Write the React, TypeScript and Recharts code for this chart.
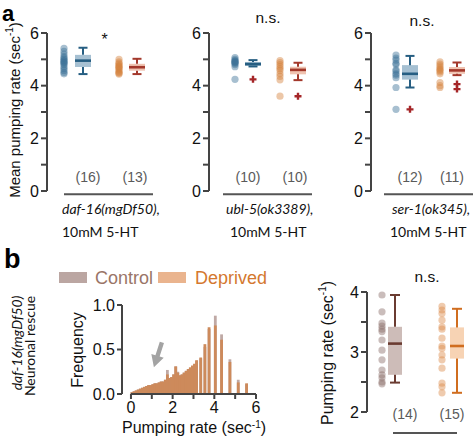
import React from 'react'
import {
  ScatterChart,
  Scatter,
  BarChart,
  Bar,
  XAxis,
  YAxis,
  ReferenceArea,
  ReferenceLine,
  ReferenceDot,
} from 'recharts'

// panel a: mean pumping rate per worm (sec-1) on 10mM 5-HT
const dafControl = [5.42, 5.3, 5.2, 5.1, 5.05, 5.0, 4.95, 4.92, 4.88, 4.85, 4.8, 4.72, 4.65, 4.58, 4.5, 4.45]
const dafDeprived = [5.0, 4.9, 4.85, 4.8, 4.75, 4.72, 4.7, 4.65, 4.6, 4.55, 4.5, 4.47, 4.44]
const ublControl = [5.07, 5.0, 4.95, 4.92, 4.9, 4.88, 4.85, 4.8, 4.72, 4.24]
const ublDeprived = [4.95, 4.88, 4.8, 4.72, 4.65, 4.58, 4.45, 4.35, 4.22, 3.6]
const serControl = [5.16, 5.05, 4.97, 4.85, 4.8, 4.6, 4.55, 4.45, 4.4, 4.3, 3.93, 3.1]
const serDeprived = [4.9, 4.82, 4.75, 4.68, 4.62, 4.58, 4.52, 4.45, 4.12, 4.0, 3.93]

// box stats: [whisker low, q1, median, q3, whisker high]
const dafControlBox = [4.44, 4.71, 4.95, 5.17, 5.44]
const dafDeprivedBox = [4.44, 4.57, 4.7, 4.83, 5.02]
const ublControlBox = [4.73, 4.75, 4.82, 4.9, 4.97]
const ublDeprivedBox = [4.21, 4.43, 4.6, 4.72, 4.87]
const serControlBox = [3.93, 4.23, 4.45, 4.78, 5.13]
const serDeprivedBox = [4.4, 4.45, 4.58, 4.71, 4.88]

const ublControlOut = [4.24]
const ublDeprivedOut = [3.6]
const serControlOut = [3.1]
const serDeprivedOut = [4.06, 3.87]

// panel b histogram, bins of 0.1 sec-1
const binCenters = [
  0.05, 0.15, 0.25, 0.35, 0.45, 0.55, 0.65, 0.75, 0.85, 0.95,
  1.05, 1.15, 1.25, 1.35, 1.45, 1.55, 1.65, 1.75, 1.85, 1.95,
  2.05, 2.15, 2.25, 2.35, 2.45, 2.55, 2.65, 2.75, 2.85, 2.95,
  3.05, 3.15, 3.25, 3.35, 3.45, 3.55, 3.65, 3.75, 3.85, 3.95,
  4.05, 4.15, 4.25, 4.35, 4.45, 4.55, 4.65, 4.75, 4.85, 4.95,
  5.05, 5.15, 5.25, 5.35, 5.45, 5.55,
]
const controlFreq = [
  0.02, 0.03, 0.04, 0.05, 0.06, 0.07, 0.08, 0.09, 0.1, 0.1,
  0.11, 0.12, 0.12, 0.13, 0.14, 0.14, 0.16, 0.27, 0.18, 0.19,
  0.22, 0.31, 0.25, 0.21, 0.22, 0.24, 0.26, 0.28, 0.29, 0.31,
  0.33, 0.37, 0, 0.4, 0, 0.53, 0, 0.73, 0, 0,
  0.88, 0, 0, 0.67, 0, 0, 0, 0.39, 0, 0,
  0, 0.16, 0, 0, 0, 0.11,
]
const deprivedFreq = [
  0.02, 0.03, 0.04, 0.05, 0.06, 0.07, 0.08, 0.09, 0.1, 0.1,
  0.11, 0.12, 0.12, 0.13, 0.14, 0.14, 0.16, 0.22, 0.18, 0.19,
  0.22, 0.31, 0.24, 0.21, 0.22, 0.24, 0.26, 0.28, 0.3, 0.32,
  0.34, 0.38, 0, 0.41, 0, 0.56, 0, 0.75, 0, 0,
  0.77, 0, 0, 0.61, 0, 0, 0, 0.36, 0, 0,
  0, 0.13, 0, 0, 0, 0.12,
]

// panel b right: pumping rate per worm
const ctrlRates = [3.95, 3.67, 3.48, 3.43, 3.38, 3.34, 3.2, 3.03, 2.87, 2.7, 2.62, 2.57, 2.5, 2.47]
const deprRates = [3.76, 3.7, 3.64, 3.53, 3.42, 3.38, 3.23, 3.1, 3.06, 2.95, 2.87, 2.73, 2.48, 2.42, 2.32]
const ctrlBox = [2.49, 2.62, 3.14, 3.42, 3.95]
const deprBox = [2.32, 2.89, 3.1, 3.41, 3.72]

const AXIS = '#444'
const SANS = '"Liberation Sans", Arial, sans-serif'
const GILL = 'Lato, "Open Sans", sans-serif'

const dotShape = (color: string) => (p: any) => (
  <circle cx={p.cx} cy={p.cy} r={3.6} fill={color} fillOpacity={0.45} />
)
const crossShape = (color: string) => (p: any) => (
  <path d={`M${p.cx - 3.5},${p.cy}h7M${p.cx},${p.cy - 3.5}v7`} stroke={color} strokeWidth={2.4} />
)
// histogram bins are ~2px wide; widen slightly so neighbours touch
const binShape = (color: string) => (p: any) =>
  p.height > 0 ? <rect x={p.x - 0.4} y={p.y} width={p.width + 0.8} height={p.height} fill={color} /> : <g />

function boxParts(id: string, x: number, b: number[], hw: number, cap: number, fill: string, line: string) {
  const [lo, q1, med, q3, hi] = b
  const ls = { stroke: line, strokeWidth: 2 }
  return [
    <ReferenceLine key={id + 'w1'} segment={[{ x, y: lo }, { x, y: q1 }]} {...ls} />,
    <ReferenceLine key={id + 'w2'} segment={[{ x, y: q3 }, { x, y: hi }]} {...ls} />,
    <ReferenceLine key={id + 'c1'} segment={[{ x: x - cap, y: lo }, { x: x + cap, y: lo }]} {...ls} />,
    <ReferenceLine key={id + 'c2'} segment={[{ x: x - cap, y: hi }, { x: x + cap, y: hi }]} {...ls} />,
    <ReferenceArea key={id + 'b'} x1={x - hw} x2={x + hw} y1={q1} y2={q3} fill={fill} fillOpacity={1} stroke="none" />,
    <ReferenceLine key={id + 'm'} segment={[{ x: x - hw, y: med }, { x: x + hw, y: med }]} stroke={line} strokeWidth={2.6} />,
  ]
}

type Group = {
  id: string
  dotX: number
  boxX: number
  countX: number
  vals: number[]
  box: number[]
  out: number[]
  dot: string
  fill: string
  line: string
}

function BoxPanel(props: {
  left: number
  top: number
  width: number
  height: number
  margin: any
  axisW: number
  xDomain: number[]
  yDomain: number[]
  yTicks: number[]
  labelTick: (v: number) => boolean
  groups: Group[]
  hw: number
  cap: number
  countY: number
  baseY: number
  baseX: number[]
}) {
  const p = props
  return (
    <div style={{ position: 'absolute', left: p.left, top: p.top }}>
      <ScatterChart width={p.width} height={p.height} margin={p.margin}>
        <XAxis type="number" dataKey="x" domain={p.xDomain} hide />
        <YAxis
          type="number"
          dataKey="y"
          domain={p.yDomain}
          ticks={p.yTicks}
          interval={0}
          width={p.axisW}
          tickFormatter={(v: number) => (p.labelTick(v) ? String(v) : '')}
          axisLine={{ stroke: AXIS, strokeWidth: 2 }}
          tickLine={{ stroke: AXIS, strokeWidth: 2 }}
          tickSize={6}
          tick={{ fill: '#111', fontSize: 16 }}
        />
        {p.groups.map((g) => boxParts(g.id, g.boxX, g.box, p.hw, p.cap, g.fill, g.line))}
        {p.groups.map((g) => (
          <Scatter
            key={g.id + 'dots'}
            data={g.vals.map((y) => ({ x: g.dotX, y }))}
            shape={dotShape(g.dot)}
            isAnimationActive={false}
          />
        ))}
        {p.groups
          .filter((g) => g.out.length > 0)
          .map((g) => (
            <Scatter
              key={g.id + 'out'}
              data={g.out.map((y) => ({ x: g.boxX, y }))}
              shape={crossShape('#a52628')}
              isAnimationActive={false}
            />
          ))}
        {p.groups.map((g) => (
          <ReferenceDot
            key={g.id + 'n'}
            x={g.countX}
            y={p.countY}
            r={0}
            stroke="none"
            ifOverflow="visible"
            label={{ value: `(${g.vals.length})`, position: 'center', fill: '#5a5a5a', fontSize: 14 }}
          />
        ))}
        <ReferenceLine
          segment={[
            { x: p.baseX[0], y: p.baseY },
            { x: p.baseX[1], y: p.baseY },
          ]}
          stroke="#555"
          strokeWidth={2}
          ifOverflow="visible"
        />
      </ScatterChart>
    </div>
  )
}

const blueA = { dot: '#3b7196', fill: '#a6c0d2', line: '#265e82' }
const orangeA = { dot: '#d4823f', fill: '#f0c3b1', line: '#a3382b' }

const Arrow = (p: any) => {
  const { cx, cy } = p
  const dx = 8
  const dy = -25
  const len = Math.hypot(dx, dy)
  const ux = dx / len
  const uy = dy / len
  const nx = -uy
  const ny = ux
  const bx = cx + ux * 12
  const by = cy + uy * 12
  const tx = cx + dx
  const ty = cy + dy
  const pts = [
    [cx, cy],
    [bx + nx * 6.5, by + ny * 6.5],
    [bx + nx * 2.2, by + ny * 2.2],
    [tx + nx * 2.2, ty + ny * 2.2],
    [tx - nx * 2.2, ty - ny * 2.2],
    [bx - nx * 2.2, by - ny * 2.2],
    [bx - nx * 6.5, by - ny * 6.5],
  ]
  return <polygon points={pts.map((q) => q.join(',')).join(' ')} fill="#a3a3a3" />
}

const Sec = () => (
  <>
    (sec
    <tspan dy={-5} fontSize={10}>
      -1
    </tspan>
    <tspan dy={5}>)</tspan>
  </>
)

function VText({ x, y, size, children, italic, family }: any) {
  return (
    <text
      transform={`translate(${x},${y}) rotate(-90)`}
      textAnchor="middle"
      dominantBaseline="central"
      fontSize={size}
      fontStyle={italic ? 'italic' : 'normal'}
      fontFamily={family || SANS}
      fill="#111"
    >
      {children}
    </text>
  )
}

const HIST_DOMAIN = [-0.43, 6]

export default function App() {
  const histData = binCenters.map((b, i) => ({ bin: b, control: controlFreq[i], deprived: deprivedFreq[i] }))
  const evenOnly = (v: number) => v % 2 === 0
  const intOnly = (v: number) => Number.isInteger(v)
  const aMargin = { top: 33, right: 0, bottom: 9, left: 0 }

  return (
    <div
      style={{
        position: 'absolute',
        left: 0,
        top: 0,
        width: 473,
        height: 438,
        overflow: 'hidden',
        background: '#fff',
        fontFamily: SANS,
      }}
    >
      <BoxPanel
        left={0} top={0} width={157} height={200} margin={aMargin} axisW={47}
        xDomain={[0, 11]} yDomain={[0, 6]} yTicks={[0, 1, 2, 3, 4, 5, 6]} labelTick={evenOnly}
        hw={0.8} cap={0.45} countY={0.53} baseY={-0.12} baseX={[1.7, 10.6]}
        groups={[
          { id: 'dc', dotX: 1.7, boxX: 3.6, countX: 4.1, vals: dafControl, box: dafControlBox, out: [], ...blueA },
          { id: 'dd', dotX: 7.2, boxX: 9.0, countX: 8.8, vals: dafDeprived, box: dafDeprivedBox, out: [], ...orangeA },
        ]}
      />
      <BoxPanel
        left={170} top={0} width={149} height={200} margin={aMargin} axisW={39}
        xDomain={[0, 11]} yDomain={[0, 6]} yTicks={[0, 1, 2, 3, 4, 5, 6]} labelTick={evenOnly}
        hw={0.8} cap={0.45} countY={0.53} baseY={-0.12} baseX={[1.4, 10.3]}
        groups={[
          { id: 'uc', dotX: 2.6, boxX: 4.4, countX: 3.9, vals: ublControl, box: ublControlBox, out: ublControlOut, ...blueA },
          { id: 'ud', dotX: 7.1, boxX: 8.9, countX: 8.6, vals: ublDeprived, box: ublDeprivedBox, out: ublDeprivedOut, ...orangeA },
        ]}
      />
      <BoxPanel
        left={333} top={0} width={148} height={200} margin={aMargin} axisW={38}
        xDomain={[0, 11]} yDomain={[0, 6]} yTicks={[0, 1, 2, 3, 4, 5, 6]} labelTick={evenOnly}
        hw={0.8} cap={0.45} countY={0.53} baseY={-0.12} baseX={[1.3, 11]}
        groups={[
          { id: 'sc', dotX: 2.5, boxX: 3.9, countX: 3.9, vals: serControl, box: serControlBox, out: serControlOut, ...blueA },
          { id: 'sd', dotX: 6.9, boxX: 8.6, countX: 8.1, vals: serDeprived, box: serDeprivedBox, out: serDeprivedOut, ...orangeA },
        ]}
      />

      {/* histogram: Control behind, Deprived laid over it in a second chart with the same frame */}
      <div style={{ position: 'absolute', left: 0, top: 290 }}>
        <BarChart
          width={270}
          height={148}
          data={histData}
          margin={{ top: 15, right: 14, bottom: 4, left: 0 }}
          barCategoryGap={0}
        >
          <XAxis
            type="number"
            dataKey="bin"
            domain={HIST_DOMAIN}
            allowDataOverflow
            ticks={[0, 1, 2, 3, 4, 5, 6]}
            interval={0}
            tickFormatter={(v: number) => (v % 2 === 0 ? String(v) : '')}
            axisLine={false}
            tickLine={{ stroke: AXIS, strokeWidth: 2 }}
            tickSize={5}
            tickMargin={3}
            height={40}
            tick={{ fill: '#111', fontSize: 16 }}
          />
          <YAxis
            domain={[0, 1]}
            ticks={[0, 0.5, 1]}
            interval={0}
            width={122}
            tickFormatter={(v: number) => v.toFixed(1)}
            axisLine={{ stroke: AXIS, strokeWidth: 2 }}
            tickLine={{ stroke: AXIS, strokeWidth: 2 }}
            tickSize={5}
            tick={{ fill: '#111', fontSize: 16 }}
          />
          <Bar dataKey="control" shape={binShape('#bfa9a5')} isAnimationActive={false} />
        </BarChart>
      </div>
      <div style={{ position: 'absolute', left: 0, top: 290 }}>
        <BarChart
          width={270}
          height={148}
          data={histData}
          margin={{ top: 15, right: 14, bottom: 44, left: 122 }}
          barCategoryGap={0}
        >
          <XAxis type="number" dataKey="bin" domain={HIST_DOMAIN} allowDataOverflow hide />
          <YAxis domain={[0, 1]} hide />
          <Bar dataKey="deprived" shape={binShape('#cd8a5b')} isAnimationActive={false} />
          <ReferenceLine
            segment={[
              { x: 0, y: 0 },
              { x: 6, y: 0 },
            ]}
            stroke={AXIS}
            strokeWidth={2}
          />
          <ReferenceDot x={1.1} y={0.3} r={0} shape={Arrow} ifOverflow="visible" />
        </BarChart>
      </div>

      <BoxPanel
        left={300} top={270} width={173} height={168}
        margin={{ top: 22, right: 0, bottom: 26, left: 0 }} axisW={67}
        xDomain={[0, 10.6]} yDomain={[2, 4]} yTicks={[2, 2.5, 3, 3.5, 4]} labelTick={intOnly}
        hw={0.7} cap={0.5} countY={1.97} baseY={1.65} baseX={[2.6, 9.0]}
        groups={[
          { id: 'bc', dotX: 1.5, boxX: 2.8, countX: 3.8, vals: ctrlRates, box: ctrlBox, out: [], dot: '#8a6c68', fill: '#cdbcb8', line: '#6a3b31' },
          { id: 'bd', dotX: 7.5, boxX: 9.0, countX: 8.5, vals: deprRates, box: deprBox, out: [], dot: '#dc8c4c', fill: '#f7d3b4', line: '#d06d1f' },
        ]}
      />

      <svg
        width={473}
        height={438}
        style={{ position: 'absolute', left: 0, top: 0, pointerEvents: 'none' }}
        fontFamily={SANS}
      >
        <text x={2} y={20.5} fontSize={22} fontWeight="bold" fill="#000">a</text>
        <text x={4} y={268} fontSize={27} fontWeight="bold" fill="#000">b</text>

        <VText x={14} y={110} size={15}>
          Mean pumping rate <Sec />
        </VText>

        <text x={104.5} y={45} fontSize={16} textAnchor="middle" fill="#111">*</text>
        <text x={268} y={23} fontSize={15.5} textAnchor="middle" fill="#111">n.s.</text>
        <text x={422} y={26} fontSize={15.5} textAnchor="middle" fill="#111">n.s.</text>
        <text x={427} y={282} fontSize={15.5} textAnchor="middle" fill="#111">n.s.</text>

        <g fontFamily={GILL} fontSize={14} fill="#111">
          <text x={62} y={214} fontStyle="italic">daf-16(mgDf50),</text>
          <text x={62} y={237}>10mM 5-HT</text>
          <text x={226} y={214} fontStyle="italic">ubl-5(ok3389),</text>
          <text x={230} y={237}>10mM 5-HT</text>
          <text x={392} y={214} fontStyle="italic">ser-1(ok345),</text>
          <text x={390} y={237}>10mM 5-HT</text>
        </g>

        <VText x={16} y={343} size={14} italic family={GILL}>daf-16(mgDf50)</VText>
        <VText x={29} y={346} size={14} family={GILL}>Neuronal rescue</VText>

        <rect x={59} y={272} width={28} height={11} fill="#bba6a2" />
        <text x={95} y={284} fontSize={18} fill="#9a7567">Control</text>
        <rect x={158} y={272} width={28} height={11} fill="#eab48e" />
        <text x={195} y={284} fontSize={18} fill="#d4782f">Deprived</text>

        <VText x={77} y={350} size={16}>Frequency</VText>
        <text x={194} y={433} fontSize={16} textAnchor="middle" fill="#111">
          Pumping rate <Sec />
        </text>
        <VText x={327} y={353} size={16}>
          Pumping rate <Sec />
        </VText>
      </svg>
    </div>
  )
}
